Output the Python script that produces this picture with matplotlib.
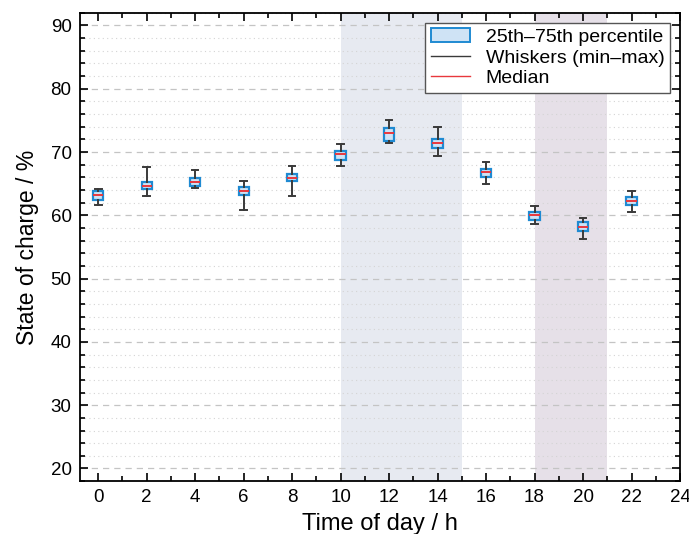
import matplotlib
matplotlib.use("Agg")
import matplotlib.pyplot as plt
from matplotlib.patches import Patch
from matplotlib.lines import Line2D
from matplotlib.ticker import MultipleLocator

plt.rcParams['font.family'] = ['Liberation Sans', 'DejaVu Sans']

# hourly state-of-charge statistics (%)
hours = [0, 2, 4, 6, 8, 10, 12, 14, 16, 18, 20, 22]
soc_min = [61.7, 63.0, 64.25, 60.9, 63.0, 67.8, 71.4, 69.35, 64.9, 58.6, 56.25, 60.5]
soc_q1 = [62.4, 64.1, 64.6, 63.2, 65.35, 68.8, 71.8, 70.7, 66.05, 59.3, 57.6, 61.6]
soc_med = [63.25, 64.6, 65.25, 63.9, 65.9, 69.7, 73.05, 71.4, 66.9, 60.0, 58.2, 62.3]
soc_q3 = [63.8, 65.25, 65.9, 64.5, 66.5, 70.1, 73.8, 72.0, 67.4, 60.6, 59.0, 62.9]
soc_max = [64.2, 67.7, 67.2, 65.5, 67.8, 71.25, 75.1, 73.9, 68.5, 61.4, 59.55, 63.9]

# shaded periods (h)
day_peak = (10, 15)
evening_peak = (18, 21)

box_edge = '#1f8ad2'
box_face = '#cfe3f5'
median_col = '#e8383d'
whisk_col = '#3a3a3a'

fig = plt.figure(figsize=(6.89, 5.34), dpi=100)
ax = fig.add_axes([0.116, 0.099, 0.871, 0.877])

ax.axvspan(*day_peak, color='#e7eaf1', zorder=0, lw=0)
ax.axvspan(*evening_peak, color='#e6e0e8', zorder=0, lw=0)

stats = []
for i in range(len(hours)):
    stats.append({'whislo': soc_min[i], 'q1': soc_q1[i], 'med': soc_med[i],
                  'q3': soc_q3[i], 'whishi': soc_max[i], 'fliers': []})

ax.bxp(stats, positions=hours, widths=0.42, patch_artist=True, showfliers=False,
       boxprops=dict(facecolor=box_face, edgecolor=box_edge, linewidth=1.6),
       medianprops=dict(color=median_col, linewidth=1.4),
       whiskerprops=dict(color=whisk_col, linewidth=1.4),
       capprops=dict(color=whisk_col, linewidth=1.4),
       capwidths=0.28, zorder=3)

ax.set_xlim(-0.75, 24)
ax.set_ylim(18, 92)
ax.xaxis.set_major_locator(MultipleLocator(2))
ax.xaxis.set_minor_locator(MultipleLocator(1))
ax.yaxis.set_major_locator(MultipleLocator(10))
ax.yaxis.set_minor_locator(MultipleLocator(2))
ax.set_xticks(range(0, 25, 2))
ax.set_xticklabels([str(h) for h in range(0, 25, 2)])

ax.grid(axis='y', which='major', linestyle=(0, (5, 4)), color='#c4c4c4', linewidth=0.9, zorder=1)
ax.grid(axis='y', which='minor', linestyle=(0, (1, 3)), color='#d4d4d4', linewidth=0.8, zorder=1)
ax.set_axisbelow(True)

ax.tick_params(which='both', direction='in', top=True, right=True, width=1.2, labelsize=13.5, pad=6)
ax.tick_params(which='major', length=6)
ax.tick_params(which='minor', length=3.5)
for sp in ax.spines.values():
    sp.set_linewidth(1.3)

ax.set_xlabel('Time of day / h', fontsize=17, labelpad=5)
ax.set_ylabel('State of charge / %', fontsize=16.5, labelpad=8)

handles = [Patch(facecolor=box_face, edgecolor=box_edge, linewidth=1.4),
           Line2D([0], [0], color=whisk_col, linewidth=1.0),
           Line2D([0], [0], color=median_col, linewidth=1.0)]
labels = ['25th\u201375th percentile', 'Whiskers (min\u2013max)', 'Median']
leg = ax.legend(handles, labels, loc='upper right', fontsize=14, frameon=True,
                fancybox=False, edgecolor='#555555', framealpha=1,
                borderaxespad=0.5, handlelength=2.0, labelspacing=0.15,
                borderpad=0.3, handletextpad=0.8)
leg.get_frame().set_linewidth(1.0)

fig.savefig('out.png', dpi=100)
